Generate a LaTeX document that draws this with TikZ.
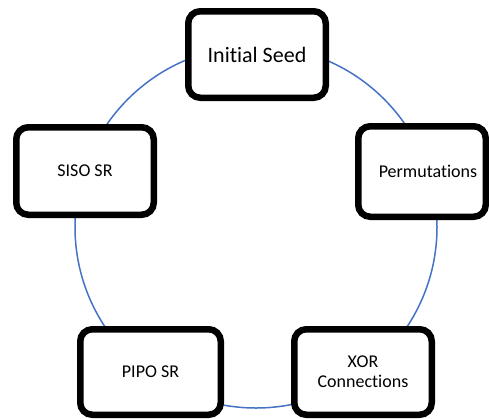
\documentclass[tikz,border=0pt]{standalone}
\usepackage{fontspec}
\setmainfont{Carlito}[Ligatures=NoCommon]
\definecolor{ringblue}{HTML}{4472C4}
\begin{document}
\begin{tikzpicture}[x=1pt,y=-1pt,
  stagebox/.style={draw=black, fill=white, line width=6.5pt, rounded corners=12pt,
    inner sep=0pt, align=center, font=\fontsize{18}{20}\selectfont},
  ring/.style={draw=ringblue, line width=1.5pt}]
\useasboundingbox (0,0) rectangle (489,418);
\clip (0,0) rectangle (489,418);
\coordinate (c) at (256,227);
\draw[ring] (c) circle[radius=181];
\node[stagebox, minimum width=137.5pt, minimum height=86.5pt,
  font=\fontsize{22}{26}\selectfont] (seed) at (257,54.5) {Initial Seed};
\node[stagebox, minimum width=127.5pt, minimum height=90.5pt,
  label={[xshift=6pt, font=\fontsize{18}{20}\selectfont]center:Permutations}] (perm) at (422,171.5) {};
\node[stagebox, minimum width=137.5pt, minimum height=85.5pt] (xor) at (363,372) {XOR\\Connections};
\node[stagebox, minimum width=140.5pt, minimum height=85.5pt] (pipo) at (150.5,372) {PIPO SR};
\node[stagebox, minimum width=137.5pt, minimum height=87.5pt] (siso) at (85,171) {SISO SR};
\end{tikzpicture}
\end{document}
